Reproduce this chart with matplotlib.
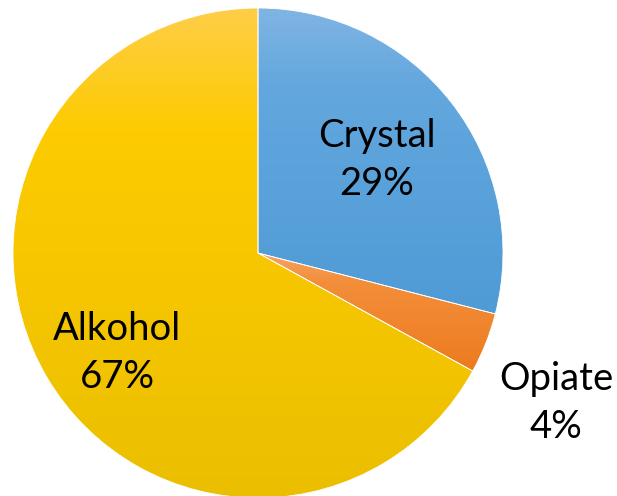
import numpy as np
import matplotlib.pyplot as plt
from matplotlib.colors import LinearSegmentedColormap

# Share of cases by substance
substances = ["Crystal", "Opiate", "Alkohol"]
shares = [29, 4, 67]

# top / middle / bottom colour of each slice's vertical gradient
gradient_colors = [
    ["#80b5e3", "#63a7de", "#4f9bd6"],
    ["#f6a463", "#f38e3a", "#ed7b1f"],
    ["#ffce48", "#fdcb00", "#ebbf00"],
]

# label anchor points (pixels, from the top-left corner)
label_xy = [(377, 160), (556, 403), (117, 353)]

W, H = 617, 496
fig = plt.figure(figsize=(W / 100, H / 100), dpi=100)
ax = fig.add_axes([0, 0, 1, 1])

center = (258, H - 253)
radius = 245

wedges, _ = ax.pie(
    shares,
    center=center,
    radius=radius,
    startangle=90,
    counterclock=False,
    colors=[c[-1] for c in gradient_colors],
    wedgeprops=dict(edgecolor="white", linewidth=0.6),
    frame=True,
)

# replace the flat fill with a vertical gradient clipped to each slice
grad = np.linspace(0, 1, 256).reshape(-1, 1)
for w, cols in zip(wedges, gradient_colors):
    ext = w.get_path().get_extents()
    cmap = LinearSegmentedColormap.from_list("g", [(0, cols[2]), (0.75, cols[1]), (1, cols[0])])
    im = ax.imshow(grad, cmap=cmap, aspect="auto", origin="lower",
                   extent=[ext.x0, ext.x1, ext.y0, ext.y1], zorder=w.get_zorder())
    im.set_clip_path(w)
    w.set_facecolor("none")
    w.set_zorder(w.get_zorder() + 0.1)

for name, pct, (x, y) in zip(substances, shares, label_xy):
    ax.text(x, H - y, f"{name}\n{pct}%", ha="center", va="center",
            fontsize=27.5, family="Lato", linespacing=1.42, color="black", zorder=5)

ax.set_xlim(0, W)
ax.set_ylim(0, H)
ax.set_aspect("equal")
ax.axis("off")
fig.savefig("out.png", dpi=100)
